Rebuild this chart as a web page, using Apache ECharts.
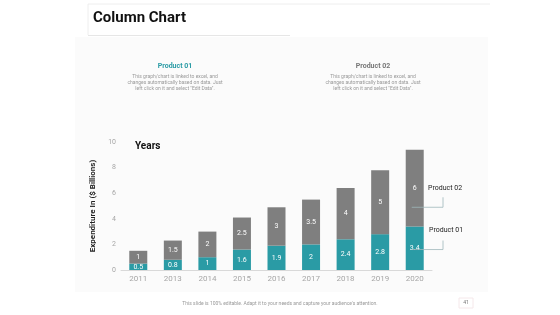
<!DOCTYPE html>
<html>
<head>
<meta charset="utf-8">
<script src="https://cdn.jsdelivr.net/npm/echarts@6/dist/echarts.min.js"></script>
<style>
  html, body { margin: 0; padding: 0; background: #fff; }
  #chart { width: 560px; height: 315px; }
</style>
</head>
<body>
<div id="chart"></div>
<script>
  var years = ['2011', '2013', '2014', '2015', '2016', '2017', '2018', '2019', '2020'];
  var product01 = [0.5, 0.8, 1, 1.6, 1.9, 2, 2.4, 2.8, 3.4];
  var product02 = [1, 1.5, 2, 2.5, 3, 3.5, 4, 5, 6];
  var yTicks = [0, 2, 4, 6, 8, 10];

  var teal = '#2a9ba5';
  var grey = '#7f7f7f';
  var desc = 'This graph/chart is linked to excel, and\nchanges automatically based on data. Just\nleft click on it and select "Edit Data".';

  var chart = echarts.init(document.getElementById('chart'));

  var option = {
    animation: false,
    textStyle: { fontFamily: 'Roboto, Arial, sans-serif' },
    grid: { left: 121, right: 128, top: 142, bottom: 45 },
    xAxis: {
      type: 'category',
      data: years,
      axisLine: { lineStyle: { color: '#d9d9d9' } },
      axisTick: { show: false },
      axisLabel: { color: '#a6a6a6', fontSize: 8, margin: 5 }
    },
    yAxis: {
      type: 'value',
      min: yTicks[0],
      max: yTicks[yTicks.length - 1],
      interval: 2,
      axisLine: { show: false },
      axisTick: { show: false },
      splitLine: { show: false },
      axisLabel: { color: '#a6a6a6', fontSize: 7, margin: 5 },
      name: 'Expenditure In ($ Billions)',
      nameLocation: 'middle',
      nameRotate: 90,
      nameGap: 17,
      nameTextStyle: { color: '#222', fontSize: 8, fontWeight: 'bold' }
    },
    series: [
      {
        name: 'Product 01',
        type: 'bar',
        stack: 'total',
        barWidth: 18,
        data: product01,
        itemStyle: { color: teal },
        label: { show: true, position: 'inside', color: '#fff', fontSize: 7 }
      },
      {
        name: 'Product 02',
        type: 'bar',
        stack: 'total',
        barWidth: 18,
        data: product02,
        itemStyle: { color: grey },
        label: { show: true, position: 'inside', color: '#fff', fontSize: 7 }
      }
    ]
  };
  chart.setOption(option);

  // leader lines next to the last bar, positioned through the chart's own axes
  var last = years[years.length - 1];
  var p02 = chart.convertToPixel({ seriesIndex: 0 }, [last, product01[8] + product02[8] * 0.25]);
  var p01 = chart.convertToPixel({ seriesIndex: 0 }, [last, product01[8] * 0.47]);
  var lineEnd = 443;
  var lineStyle = { stroke: '#9fb8bb', lineWidth: 0.8 };

  chart.setOption({
    graphic: [
      { type: 'line', shape: { x1: 88, y1: 4, x2: 490, y2: 4 }, style: { stroke: '#eeeeee', lineWidth: 1 } },
      { type: 'rect', shape: { x: 75, y: 37, width: 413, height: 255 }, style: { fill: '#fbfbfb' }, z: -10 },
      { type: 'line', shape: { x1: 88, y1: 35.5, x2: 290, y2: 35.5 }, style: { stroke: '#e6e6e6', lineWidth: 1 } },
      { type: 'line', shape: { x1: 88, y1: 4, x2: 88, y2: 35 }, style: { stroke: '#eeeeee', lineWidth: 1 } },
      { type: 'text', left: 93, top: 11, style: { text: 'Column Chart', font: 'bold 15px "Liberation Sans Narrow", Roboto, sans-serif', fill: '#111' } },

      { type: 'text', x: 175, y: 63, style: { text: 'Product 01', font: 'bold 7px Roboto, sans-serif', fill: teal, align: 'center' } },
      { type: 'text', x: 175, y: 74, style: { text: desc, font: '5px Roboto, sans-serif', fill: '#999', align: 'center', lineHeight: 6 } },
      { type: 'text', x: 373, y: 63, style: { text: 'Product 02', font: 'bold 7px Roboto, sans-serif', fill: '#777', align: 'center' } },
      { type: 'text', x: 373, y: 74, style: { text: desc, font: '5px Roboto, sans-serif', fill: '#999', align: 'center', lineHeight: 6 } },

      { type: 'text', x: 135, y: 141, style: { text: 'Years', font: 'bold 10px "Liberation Sans Narrow", Roboto, sans-serif', fill: '#111' } },

      { type: 'line', shape: { x1: p02[0] - 3, y1: p02[1], x2: lineEnd, y2: p02[1] }, style: lineStyle, z: 20 },
      { type: 'line', shape: { x1: lineEnd, y1: p02[1] - 10, x2: lineEnd, y2: p02[1] }, style: lineStyle, z: 20 },
      { type: 'text', x: 428, y: p02[1] - 23, style: { text: 'Product 02', font: '7px Roboto, sans-serif', fill: '#222' } },
      { type: 'line', shape: { x1: p01[0] - 3, y1: p01[1], x2: lineEnd, y2: p01[1] }, style: lineStyle, z: 20 },
      { type: 'line', shape: { x1: lineEnd, y1: p01[1] - 9, x2: lineEnd, y2: p01[1] }, style: lineStyle, z: 20 },
      { type: 'text', x: 429, y: p01[1] - 23, style: { text: 'Product 01', font: '7px Roboto, sans-serif', fill: '#222' } },

      { type: 'text', x: 280, y: 301, style: { text: "This slide is 100% editable. Adapt it to your needs and capture your audience's attention.", font: '5px Roboto, sans-serif', fill: '#999', align: 'center' } },
      { type: 'rect', shape: { x: 459, y: 298, width: 14, height: 10 }, style: { fill: '#fff', stroke: '#f5e8ea', lineWidth: 1 } },
      { type: 'text', x: 466, y: 300, style: { text: '41', font: '5px Roboto, sans-serif', fill: '#777', align: 'center' } }
    ]
  });
</script>
</body>
</html>
